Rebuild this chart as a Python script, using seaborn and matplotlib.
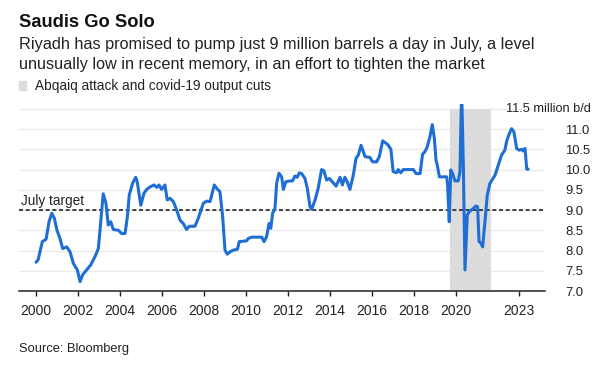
import pandas as pd
import matplotlib
matplotlib.use('Agg')
import matplotlib.pyplot as plt
from matplotlib.patches import Patch
import seaborn as sns

# Saudi crude output, million b/d
years = [
    2000.00, 2000.10, 2000.30, 2000.48, 2000.62, 2000.75, 2000.87, 2001.00, 2001.14, 2001.27,
    2001.46, 2001.62, 2001.78, 2001.97, 2002.10, 2002.22, 2002.41, 2002.60, 2002.81, 2002.97,
    2003.10, 2003.20, 2003.33, 2003.44, 2003.56, 2003.68, 2003.92, 2004.08, 2004.24, 2004.35,
    2004.44, 2004.60, 2004.75, 2004.82, 2004.99, 2005.14, 2005.27, 2005.43, 2005.62, 2005.75,
    2005.86, 2005.98, 2006.14, 2006.25, 2006.38, 2006.54, 2006.70, 2006.86, 2007.01, 2007.17,
    2007.30, 2007.57, 2007.73, 2007.97, 2008.13, 2008.29, 2008.49, 2008.60, 2008.76, 2008.89,
    2009.00, 2009.11, 2009.24, 2009.40, 2009.59, 2009.68, 2010.03, 2010.11, 2010.27, 2010.75,
    2010.86, 2010.98, 2011.10, 2011.18, 2011.27, 2011.38, 2011.46, 2011.57, 2011.70, 2011.78,
    2011.90, 2012.10, 2012.22, 2012.33, 2012.44, 2012.54, 2012.65, 2012.81, 2012.92, 2013.05,
    2013.13, 2013.29, 2013.44, 2013.60, 2013.71, 2013.84, 2013.97, 2014.16, 2014.29, 2014.48,
    2014.59, 2014.71, 2014.82, 2014.95, 2015.11, 2015.24, 2015.35, 2015.48, 2015.67, 2015.90,
    2016.03, 2016.22, 2016.35, 2016.51, 2016.67, 2016.78, 2016.90, 2017.01, 2017.17, 2017.25,
    2017.37, 2017.49, 2017.97, 2018.10, 2018.29, 2018.41, 2018.52, 2018.63, 2018.76, 2018.87,
    2018.97, 2019.05, 2019.11, 2019.21, 2019.56, 2019.60, 2019.68, 2019.75, 2019.84, 2019.95,
    2020.11, 2020.19, 2020.27, 2020.35, 2020.43, 2020.54, 2020.63, 2020.83, 2020.95, 2021.03,
    2021.10, 2021.19, 2021.27, 2021.38, 2021.49, 2021.62, 2021.86, 2022.17, 2022.33, 2022.41,
    2022.54, 2022.65, 2022.76, 2022.89, 2023.01, 2023.13, 2023.20, 2023.29, 2023.37, 2023.44,
]
output = [
    7.71, 7.77, 8.22, 8.28, 8.71, 8.92, 8.80, 8.50, 8.30, 8.05,
    8.09, 7.97, 7.68, 7.52, 7.23, 7.40, 7.52, 7.64, 7.85, 8.05,
    8.83, 9.40, 9.17, 8.63, 8.71, 8.52, 8.50, 8.42, 8.42, 8.83,
    9.37, 9.66, 9.81, 9.70, 9.12, 9.41, 9.51, 9.57, 9.62, 9.56,
    9.62, 9.51, 9.62, 9.25, 9.29, 9.21, 9.00, 8.75, 8.67, 8.52,
    8.60, 8.60, 8.80, 9.17, 9.22, 9.21, 9.62, 9.54, 9.45, 8.83,
    8.01, 7.91, 7.97, 8.01, 8.03, 8.22, 8.24, 8.30, 8.33, 8.33,
    8.22, 8.34, 8.67, 8.55, 8.92, 9.04, 9.66, 9.91, 9.82, 9.51,
    9.70, 9.72, 9.72, 9.84, 9.81, 9.92, 9.90, 9.78, 9.54, 9.08,
    9.02, 9.25, 9.54, 10.00, 9.97, 9.74, 9.78, 9.67, 9.59, 9.81,
    9.62, 9.81, 9.70, 9.51, 9.86, 10.28, 10.36, 10.60, 10.32, 10.30,
    10.19, 10.19, 10.32, 10.71, 10.65, 10.60, 10.50, 9.95, 9.92, 10.00,
    9.92, 10.00, 10.00, 9.90, 9.90, 10.38, 10.44, 10.56, 10.81, 11.11,
    10.77, 10.23, 10.11, 9.82, 9.82, 9.62, 8.71, 9.99, 9.90, 9.72,
    9.72, 9.95, 12.00, 10.11, 7.52, 8.88, 8.96, 9.04, 9.10, 9.08,
    8.22, 8.18, 8.09, 8.71, 9.37, 9.66, 9.86, 10.36, 10.48, 10.69,
    10.89, 11.01, 10.93, 10.52, 10.48, 10.50, 10.46, 10.52, 10.01, 10.01,
]

xtick_years = [2000, 2002, 2004, 2006, 2008, 2010, 2012, 2014, 2016, 2018, 2020, 2023]
ytick_values = [7.0, 7.5, 8.0, 8.5, 9.0, 9.5, 10.0, 10.5, 11.0, 11.5]
july_target = 9.0
shade_start, shade_end, shade_top = 2019.7, 2021.68, 11.5

df = pd.DataFrame({'year': years, 'output': output})

sns.set_style('white')
plt.rcParams['font.family'] = ['Liberation Sans', 'DejaVu Sans']

fig = plt.figure(figsize=(6.04, 3.68), dpi=100)
ax = fig.add_axes([19 / 604, 1 - 291 / 368, (545 - 19) / 604, (291 - 104) / 368])

# shaded period: Abqaiq attack and covid-19 cuts
ax.fill_between([shade_start, shade_end], 7.0, shade_top, color='#dcdcdc', lw=0, zorder=1)
ax.axhline(july_target, color='#222222', lw=1.2, ls=(0, (2.4, 1.6)), zorder=2)
sns.lineplot(data=df, x='year', y='output', ax=ax, color='#1f6ed4', linewidth=2.2,
             estimator=None, zorder=3)

ax.set_xlim(1999.19, 2024.24)
ax.set_ylim(7.0, 11.62)
ax.set_xticks(xtick_years)
ax.set_xticklabels([str(y) for y in xtick_years])
ax.set_yticks(ytick_values)
ax.set_yticklabels(['' if v == 11.5 else f'{v:.1f}' for v in ytick_values])
ax.yaxis.tick_right()
ax.grid(axis='y', color='#ebebeb', lw=1, zorder=0)
ax.set_xlabel('')
ax.set_ylabel('')

for side in ['top', 'left', 'right']:
    ax.spines[side].set_visible(False)
ax.spines['bottom'].set_color('#222222')
ax.spines['bottom'].set_linewidth(1.1)
ax.spines['bottom'].set_zorder(4)
ax.tick_params(axis='x', bottom=True, length=3.6, width=1, color='#222222',
               pad=5.5, labelsize=10, labelcolor='#222222')
ax.tick_params(axis='y', right=True, length=0, pad=14.4, labelsize=9.4, labelcolor='#222222')

ax.annotate('11.5 million b/d', xy=(1, 11.5), xycoords=('axes fraction', 'data'),
            xytext=(33, 0), textcoords='offset points', ha='right', va='center',
            fontsize=9.2, color='#222222', annotation_clip=False)
ax.annotate('July target', xy=(0, july_target), xycoords=('axes fraction', 'data'),
            xytext=(1.2, 3.6), textcoords='offset points', ha='left', va='baseline',
            fontsize=9.8, color='#222222')

# header
fig.text(19 / 604, 1 - 27 / 368, 'Saudis Go Solo', fontsize=13.2, fontweight='bold',
         color='#111111', va='baseline')
fig.text(19 / 604, 1 - 48.5 / 368,
         'Riyadh has promised to pump just 9 million barrels a day in July, a level',
         fontsize=11.7, color='#222222', va='baseline')
fig.text(19 / 604, 1 - 68.5 / 368,
         'unusually low in recent memory, in an effort to tighten the market',
         fontsize=11.7, color='#222222', va='baseline')
fig.legend(handles=[Patch(color='#dcdcdc', label='Abqaiq attack and covid-19 output cuts')],
           loc='upper left', bbox_to_anchor=(19 / 604, 1 - 79 / 368), frameon=False,
           fontsize=9.8, handlelength=0.55, handleheight=0.6, handletextpad=0.6,
           borderpad=0, borderaxespad=0, labelcolor='#222222')

fig.text(19 / 604, 1 - 352 / 368, 'Source: Bloomberg', fontsize=9.3, color='#222222',
         va='baseline')

fig.savefig('out.png', dpi=100)
